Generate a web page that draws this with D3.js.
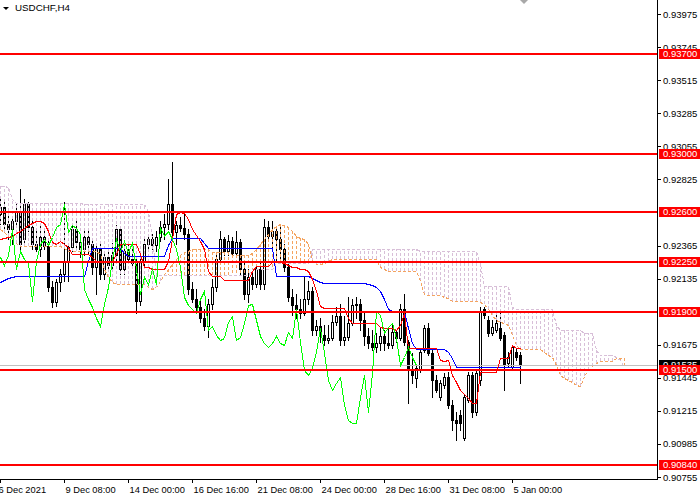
<!DOCTYPE html>
<html><head><meta charset="utf-8">
<script src="https://cdn.jsdelivr.net/npm/d3@7"></script>
<style>html,body{margin:0;padding:0;background:#fff;}svg{display:block;}</style>
</head><body>
<svg id="c" width="700" height="500"></svg>
<script>
const chartTitle = "USDCHF,H4";
// [open, high, low, close] per H4 bar
const candles = [
[0.92585,0.92690,0.92515,0.92634],[0.92634,0.92676,0.92480,0.92515],[0.92515,0.92606,0.92410,0.92480],[0.92480,0.92564,0.92375,0.92536],
[0.92536,0.92655,0.92494,0.92606],[0.92606,0.92760,0.92340,0.92375],[0.92410,0.92690,0.92375,0.92655],[0.92655,0.92669,0.92466,0.92494],
[0.92494,0.92536,0.92340,0.92375],[0.92375,0.92466,0.92326,0.92340],[0.92340,0.92501,0.92291,0.92424],[0.92424,0.92466,0.92340,0.92361],
[0.92361,0.92410,0.92046,0.92074],[0.92074,0.92116,0.91934,0.91969],[0.91969,0.92130,0.91941,0.92109],[0.92109,0.92200,0.92046,0.92165],
[0.92165,0.92669,0.92116,0.92256],[0.92256,0.92375,0.92116,0.92354],[0.92354,0.92515,0.92326,0.92480],[0.92480,0.92536,0.92354,0.92389],
[0.92389,0.92445,0.92284,0.92340],[0.92340,0.92480,0.92298,0.92424],[0.92424,0.92466,0.92305,0.92375],[0.92375,0.92410,0.92165,0.92214],
[0.92214,0.92375,0.92025,0.92340],[0.92340,0.92375,0.92130,0.92165],[0.92165,0.92326,0.92130,0.92284],[0.92284,0.92340,0.92186,0.92228],
[0.92228,0.92382,0.92200,0.92298],[0.92298,0.92508,0.92256,0.92480],[0.92480,0.92494,0.92165,0.92200],[0.92200,0.92375,0.92165,0.92326],
[0.92326,0.92375,0.92242,0.92270],[0.92270,0.92340,0.92214,0.92242],[0.92242,0.92284,0.91899,0.91976],[0.91976,0.92284,0.91948,0.92256],
[0.92256,0.92410,0.92228,0.92375],[0.92375,0.92438,0.92340,0.92410],[0.92410,0.92445,0.92340,0.92368],[0.92368,0.92466,0.92326,0.92424],
[0.92424,0.92536,0.92396,0.92494],[0.92494,0.92585,0.92410,0.92515],[0.92515,0.92830,0.92480,0.92655],[0.92655,0.92949,0.92424,0.92459],
[0.92459,0.92536,0.92375,0.92508],[0.92508,0.92564,0.92466,0.92487],[0.92487,0.92585,0.92410,0.92445],[0.92445,0.92480,0.92025,0.92060],
[0.92060,0.92109,0.91969,0.91990],[0.91990,0.92060,0.91906,0.91934],[0.91934,0.91990,0.91836,0.91864],[0.91864,0.91920,0.91780,0.91808],
[0.91808,0.91990,0.91731,0.91955],[0.91955,0.92130,0.91920,0.92074],[0.92074,0.92305,0.92046,0.92270],[0.92270,0.92466,0.92256,0.92410],
[0.92410,0.92424,0.92298,0.92326],[0.92326,0.92438,0.92298,0.92396],[0.92396,0.92424,0.92284,0.92312],[0.92312,0.92466,0.92284,0.92389],
[0.92389,0.92410,0.92165,0.92200],[0.92200,0.92256,0.91990,0.92025],[0.92025,0.92200,0.91969,0.92144],[0.92144,0.92186,0.92060,0.92095],
[0.92095,0.92235,0.92074,0.92200],[0.92200,0.92256,0.92060,0.92095],[0.92095,0.92550,0.92060,0.92494],[0.92494,0.92536,0.92410,0.92431],
[0.92431,0.92536,0.92340,0.92466],[0.92466,0.92494,0.92256,0.92410],[0.92410,0.92508,0.92256,0.92340],[0.92340,0.92375,0.92186,0.92214],
[0.92214,0.92256,0.91976,0.92004],[0.92004,0.92060,0.91885,0.91948],[0.91948,0.92025,0.91864,0.91920],[0.91920,0.91990,0.91864,0.91899],
[0.91899,0.92151,0.91885,0.91990],[0.91990,0.92116,0.91955,0.92046],[0.92046,0.92074,0.91745,0.91780],[0.91780,0.91850,0.91745,0.91808],
[0.91808,0.91864,0.91696,0.91745],[0.91745,0.91815,0.91675,0.91710],[0.91710,0.91815,0.91689,0.91724],[0.91724,0.91885,0.91710,0.91836],
[0.91836,0.91934,0.91815,0.91878],[0.91878,0.91955,0.91675,0.91710],[0.91710,0.91878,0.91675,0.91731],[0.91731,0.92004,0.91710,0.91829],
[0.91829,0.91990,0.91815,0.91948],[0.91948,0.92004,0.91864,0.91955],[0.91955,0.91990,0.91780,0.91850],[0.91850,0.91906,0.91675,0.91738],
[0.91738,0.91794,0.91654,0.91689],[0.91689,0.91780,0.91640,0.91661],[0.91661,0.91759,0.91626,0.91689],[0.91689,0.91794,0.91640,0.91738],
[0.91738,0.91780,0.91640,0.91689],[0.91689,0.91794,0.91654,0.91675],[0.91675,0.91815,0.91654,0.91766],[0.91766,0.91780,0.91696,0.91724],
[0.91724,0.91955,0.91710,0.91920],[0.91920,0.92025,0.91675,0.91696],[0.91696,0.91710,0.91269,0.91500],[0.91500,0.91619,0.91409,0.91465],
[0.91444,0.91535,0.91381,0.91514],[0.91500,0.91640,0.91486,0.91626],[0.91640,0.91815,0.91626,0.91794],[0.91794,0.91829,0.91605,0.91619],
[0.91619,0.91640,0.91311,0.91430],[0.91430,0.91465,0.91346,0.91360],[0.91311,0.91430,0.91290,0.91409],[0.91395,0.91479,0.91374,0.91451],
[0.91451,0.91486,0.91234,0.91255],[0.91255,0.91290,0.91080,0.91150],[0.91150,0.91206,0.91010,0.91129],[0.91185,0.91220,0.91080,0.91129],
[0.91024,0.91325,0.91010,0.91311],[0.91290,0.91486,0.91276,0.91465],[0.91465,0.91486,0.91171,0.91206],[0.91206,0.91500,0.91185,0.91479],
[0.91430,0.91934,0.91395,0.91906],[0.91920,0.91934,0.91864,0.91885],[0.91850,0.91878,0.91738,0.91759],[0.91759,0.91850,0.91745,0.91801],
[0.91780,0.91885,0.91766,0.91829],[0.91794,0.91899,0.91710,0.91724],[0.91745,0.91766,0.91360,0.91535],[0.91549,0.91626,0.91528,0.91591],
[0.91521,0.91675,0.91514,0.91661],[0.91626,0.91654,0.91570,0.91591],[0.91605,0.91626,0.91409,0.91535]
];
const tenkan = [
0.92410,0.92417,0.92424,0.92431,0.92452,0.92466,0.92487,0.92508,0.92522,0.92536,0.92536,0.92522,0.92466,0.92389,0.92375,0.92396,
0.92375,0.92354,0.92305,0.92305,0.92305,0.92305,0.92305,0.92284,0.92256,0.92256,0.92256,0.92256,0.92256,0.92305,0.92375,0.92375,
0.92375,0.92375,0.92375,0.92305,0.92214,0.92214,0.92200,0.92200,0.92200,0.92200,0.92256,0.92410,0.92585,0.92599,0.92592,0.92550,
0.92480,0.92438,0.92396,0.92340,0.92186,0.92151,0.92151,0.92151,0.92123,0.92123,0.92123,0.92123,0.92123,0.92123,0.92123,0.92186,
0.92221,0.92221,0.92221,0.92221,0.92249,0.92249,0.92249,0.92242,0.92228,0.92214,0.92214,0.92200,0.92200,0.92186,0.92130,0.92046,
0.91941,0.91927,0.91927,0.91927,0.91927,0.91927,0.91927,0.91864,0.91829,0.91829,0.91829,0.91829,0.91829,0.91829,0.91829,0.91801,
0.91794,0.91794,0.91794,0.91780,0.91815,0.91899,0.91654,0.91654,0.91654,0.91654,0.91654,0.91654,0.91654,0.91654,0.91570,0.91563,
0.91570,0.91465,0.91416,0.91360,0.91332,0.91304,0.91269,0.91269,0.91486,0.91486,0.91486,0.91486,0.91486,0.91584,0.91584,0.91584,
0.91675,0.91654,0.91654
];
const kijun = [
0.92109,0.92123,0.92137,0.92144,0.92151,0.92151,0.92151,0.92151,0.92151,0.92151,0.92151,0.92151,0.92151,0.92151,0.92151,0.92151,
0.92151,0.92151,0.92151,0.92151,0.92151,0.92151,0.92256,0.92347,0.92347,0.92347,0.92347,0.92347,0.92347,0.92347,0.92347,0.92312,
0.92291,0.92291,0.92291,0.92291,0.92291,0.92291,0.92291,0.92291,0.92291,0.92291,0.92368,0.92417,0.92417,0.92417,0.92417,0.92417,
0.92417,0.92417,0.92417,0.92382,0.92347,0.92347,0.92347,0.92347,0.92347,0.92347,0.92347,0.92347,0.92347,0.92347,0.92347,0.92347,
0.92347,0.92347,0.92347,0.92347,0.92347,0.92151,0.92151,0.92151,0.92151,0.92151,0.92151,0.92151,0.92151,0.92151,0.92137,0.92123,
0.92109,0.92102,0.92102,0.92102,0.92102,0.92102,0.92102,0.92102,0.92102,0.92102,0.92102,0.92102,0.92095,0.92088,0.92074,0.92046,
0.91990,0.91920,0.91906,0.91906,0.91906,0.91906,0.91794,0.91689,0.91647,0.91647,0.91647,0.91647,0.91647,0.91647,0.91647,0.91647,
0.91626,0.91584,0.91521,0.91521,0.91521,0.91521,0.91521,0.91521,0.91521,0.91521,0.91521,0.91521,0.91521,0.91521,0.91521,0.91521,
0.91521,0.91521,0.91521
];
// Senkou spans, drawn 26 bars ahead (157 bars)
const senkouA = [
0.92480,0.92459,0.92431,0.92410,0.92382,0.92361,0.92361,0.92361,0.92361,0.92361,0.92361,0.92361,0.92361,0.92361,0.92361,0.92361,
0.92347,0.92326,0.92326,0.92326,0.92326,0.92326,0.92326,0.92326,0.92326,0.92305,0.92200,0.92144,0.92109,0.92095,0.92095,0.92095,
0.92095,0.92095,0.92095,0.92095,0.92095,0.92074,0.92060,0.92074,0.92116,0.92165,0.92200,0.92235,0.92270,0.92298,0.92319,0.92326,
0.92340,0.92340,0.92340,0.92340,0.92340,0.92319,0.92319,0.92319,0.92319,0.92319,0.92298,0.92298,0.92298,0.92298,0.92298,0.92312,
0.92340,0.92375,0.92410,0.92445,0.92480,0.92501,0.92515,0.92508,0.92494,0.92466,0.92431,0.92417,0.92410,0.92375,0.92256,0.92235,
0.92235,0.92242,0.92256,0.92270,0.92270,0.92270,0.92270,0.92270,0.92270,0.92270,0.92270,0.92270,0.92270,0.92270,0.92270,0.92214,
0.92200,0.92186,0.92186,0.92186,0.92186,0.92186,0.92186,0.92186,0.92186,0.92116,0.92025,0.92018,0.92018,0.92018,0.92018,0.92004,
0.91997,0.91976,0.91976,0.91976,0.91976,0.91976,0.91976,0.91976,0.91969,0.91955,0.91920,0.91885,0.91850,0.91836,0.91829,0.91815,
0.91745,0.91675,0.91647,0.91647,0.91647,0.91647,0.91647,0.91647,0.91626,0.91605,0.91591,0.91535,0.91465,0.91444,0.91430,0.91416,
0.91395,0.91388,0.91458,0.91500,0.91528,0.91549,0.91563,0.91563,0.91563,0.91563,0.91584,0.91584,0.91584
];
const senkouB = [
0.92781,0.92781,0.92774,0.92690,0.92662,0.92662,0.92662,0.92662,0.92662,0.92662,0.92662,0.92662,0.92662,0.92662,0.92662,0.92662,
0.92662,0.92662,0.92662,0.92662,0.92662,0.92655,0.92655,0.92655,0.92655,0.92655,0.92655,0.92655,0.92655,0.92655,0.92655,0.92655,
0.92655,0.92655,0.92655,0.92655,0.92655,0.92606,0.92410,0.92158,0.92158,0.92158,0.92158,0.92158,0.92158,0.92158,0.92158,0.92158,
0.92158,0.92158,0.92158,0.92158,0.92158,0.92158,0.92158,0.92158,0.92158,0.92158,0.92158,0.92158,0.92158,0.92158,0.92158,0.92200,
0.92200,0.92200,0.92200,0.92200,0.92200,0.92242,0.92242,0.92242,0.92242,0.92242,0.92242,0.92242,0.92242,0.92242,0.92340,0.92340,
0.92340,0.92340,0.92340,0.92340,0.92340,0.92340,0.92340,0.92340,0.92340,0.92340,0.92340,0.92340,0.92340,0.92340,0.92340,0.92340,
0.92340,0.92340,0.92340,0.92340,0.92340,0.92340,0.92340,0.92340,0.92340,0.92326,0.92326,0.92326,0.92326,0.92326,0.92326,0.92326,
0.92326,0.92326,0.92326,0.92326,0.92326,0.92326,0.92326,0.92326,0.92235,0.92081,0.92081,0.92081,0.92081,0.92081,0.92081,0.92081,
0.91934,0.91920,0.91920,0.91920,0.91920,0.91920,0.91920,0.91920,0.91920,0.91920,0.91920,0.91815,0.91780,0.91780,0.91780,0.91780,
0.91780,0.91780,0.91759,0.91759,0.91759,0.91640,0.91605,0.91605,0.91605,0.91605,0.91591,0.91570,0.91521
];
const chikouShift = 26;
const levels = [0.93700, 0.93000, 0.92600, 0.92250, 0.91900, 0.91500, 0.90840];
const bidPrice = 0.91535;
const priceTicks = [0.93975,0.93745,0.93515,0.93285,0.93055,0.92825,0.92365,0.92135,0.91675,0.91445,0.91215,0.90985,0.90755];
const timeLabels = ["6 Dec 2021","9 Dec 08:00","14 Dec 00:00","16 Dec 16:00","21 Dec 08:00","24 Dec 00:00","28 Dec 16:00","31 Dec 08:00","5 Jan 00:00"];
const timeLabelBars = [0,16,32,48,64,80,96,112,128];

const COL = {tenkan:"#ff0000", kijun:"#0000ff", chikou:"#00ff00", up:"#f4a460", down:"#d8bfd8", level:"#ff0000", bid:"#c0c0c0"};
const FONT = "'Liberation Sans', Arial, sans-serif";
const plotR = 657, plotB = 479;

const svg = d3.select("#c");
const x = d3.scaleLinear().domain([0,130]).range([0,520]);
const y = d3.scaleLinear().domain([0.90755,0.93975]).range([477,14]);
const px = i => Math.round(x(i));
const py = v => Math.round(y(v));

svg.append("rect").attr("width",700).attr("height",500).attr("fill","#fff");
svg.append("defs").append("clipPath").attr("id","plot").append("rect").attr("x",0).attr("y",0).attr("width",plotR).attr("height",plotB);
const g = svg.append("g").attr("clip-path","url(#plot)").attr("shape-rendering","crispEdges");

// candles
const cg = g.append("g");
cg.selectAll("line.wick").data(candles).join("line").attr("class","wick")
  .attr("x1",(d,i)=>px(i)+0.5).attr("x2",(d,i)=>px(i)+0.5)
  .attr("y1",d=>py(d[1])).attr("y2",d=>py(d[2])+1)
  .attr("stroke","#000").attr("stroke-width",1);
cg.selectAll("rect.bear").data(candles.map((d,i)=>({d,i})).filter(o=>o.d[3]<o.d[0])).join("rect").attr("class","bear")
  .attr("x",o=>px(o.i)-1).attr("y",o=>py(o.d[0]))
  .attr("width",3).attr("height",o=>Math.max(1,py(o.d[3])-py(o.d[0])+1)).attr("fill","#000");
cg.selectAll("rect.bull").data(candles.map((d,i)=>({d,i})).filter(o=>o.d[3]>=o.d[0])).join("rect").attr("class","bull")
  .attr("x",o=>px(o.i)-0.5).attr("y",o=>py(o.d[3])+0.5)
  .attr("width",2).attr("height",o=>Math.max(0,py(o.d[0])-py(o.d[3])))
  .attr("fill","#fff").attr("stroke","#000").attr("stroke-width",1);

// kumo hatch
const kumo = g.append("g");
kumo.selectAll("line").data(senkouA.map((a,i)=>({a,b:senkouB[i],i}))).join("line")
  .attr("x1",o=>px(o.i)+0.5).attr("x2",o=>px(o.i)+0.5)
  .attr("y1",o=>py(o.a)).attr("y2",o=>py(o.b))
  .attr("stroke",o=>o.a>=o.b?COL.up:COL.down).attr("stroke-width",1).attr("stroke-dasharray","3,2");
const lineGen = d3.line().x((d,i)=>px(i)+0.5).y(d=>py(d)+0.5);
g.append("path").datum(senkouB).attr("d",lineGen).attr("fill","none").attr("stroke",COL.down).attr("stroke-dasharray","3,2");
g.append("path").datum(senkouA).attr("d",lineGen).attr("fill","none").attr("stroke",COL.up).attr("stroke-dasharray","3,2");

// bid line
g.append("line").attr("x1",0).attr("x2",plotR).attr("y1",py(bidPrice)+0.5).attr("y2",py(bidPrice)+0.5).attr("stroke",COL.bid);

// lines
g.append("path").datum(kijun).attr("d",lineGen).attr("fill","none").attr("stroke",COL.kijun);
g.append("path").datum(tenkan).attr("d",lineGen).attr("fill","none").attr("stroke",COL.tenkan);
g.append("path").datum(candles.slice(chikouShift).map(d=>d[3])).attr("d",lineGen).attr("fill","none").attr("stroke",COL.chikou);

// horizontal levels
g.selectAll("line.lvl").data(levels).join("line").attr("class","lvl")
  .attr("x1",0).attr("x2",plotR).attr("y1",d=>py(d)).attr("y2",d=>py(d))
  .attr("stroke",COL.level).attr("stroke-width",2);

// frame
svg.append("line").attr("x1",plotR+0.5).attr("x2",plotR+0.5).attr("y1",0).attr("y2",plotB+1).attr("stroke","#000").attr("shape-rendering","crispEdges");
svg.append("line").attr("x1",0).attr("x2",plotR+1).attr("y1",plotB+0.5).attr("y2",plotB+0.5).attr("stroke","#000").attr("shape-rendering","crispEdges");

// price axis
const yAxis = d3.axisRight(y).tickValues(priceTicks).tickFormat(d3.format(".5f")).tickSize(4).tickSizeOuter(0).tickPadding(2);
const ya = svg.append("g").attr("transform",`translate(${plotR},0)`).call(yAxis);
ya.select(".domain").remove();
ya.selectAll("line").attr("stroke","#000").attr("shape-rendering","crispEdges");
ya.selectAll("text").attr("font-family",FONT).attr("font-size","9.5px").attr("fill","#000");

// time axis
const xAxis = d3.axisBottom(x).tickValues(timeLabelBars).tickFormat((d,i)=>timeLabels[i]).tickSize(4).tickSizeOuter(0).tickPadding(2);
const xa = svg.append("g").attr("transform",`translate(0,${plotB})`).call(xAxis);
xa.select(".domain").remove();
xa.selectAll("line").attr("stroke","#000").attr("shape-rendering","crispEdges");
xa.selectAll("text").attr("font-family",FONT).attr("font-size","9.3px").attr("fill","#000")
  .attr("text-anchor","start").attr("dx",(d,i)=>i===0?-2:1).attr("dy","0.9em");

// bid label
const bg = svg.append("g");
bg.append("rect").attr("x",plotR+2).attr("y",py(bidPrice)-5).attr("width",700-plotR-2).attr("height",10).attr("fill","#000");
bg.append("text").attr("x",plotR+6).attr("y",py(bidPrice)).attr("dy","0.35em").attr("font-family",FONT).attr("font-size","9.5px").attr("fill","#fff").text(d3.format(".5f")(bidPrice));

// level labels
const lg = svg.selectAll("g.lbl").data(levels).join("g").attr("class","lbl");
lg.append("rect").attr("x",plotR+2).attr("y",d=>py(d)-5).attr("width",700-plotR-2).attr("height",10).attr("fill",COL.level);
lg.append("text").attr("x",plotR+6).attr("y",d=>py(d)).attr("dy","0.35em").attr("font-family",FONT).attr("font-size","9.5px").attr("fill","#fff").text(d=>d3.format(".5f")(d));

// title
svg.append("path").attr("d","M3,7 L9,7 L6,10 Z").attr("fill","#000");
svg.append("text").attr("x",15).attr("y",11).attr("font-family",FONT).attr("font-size","9.8px").attr("fill","#000").text(chartTitle);
// shift marker
const sx = x(131);
svg.append("path").attr("d",`M${sx-4},0 L${sx+4},0 L${sx},4 Z`).attr("fill","#a8a8a8");
</script>
</body></html>
